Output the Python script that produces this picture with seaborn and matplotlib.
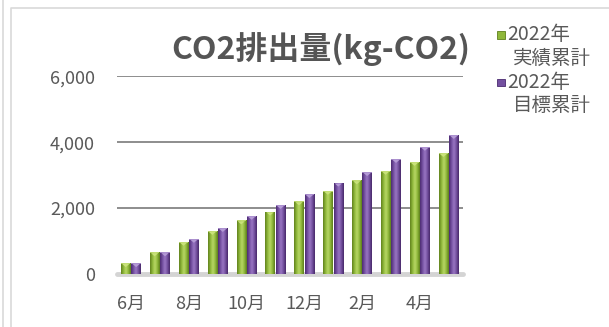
import numpy as np
import pandas as pd
import matplotlib
matplotlib.use("Agg")
import matplotlib.pyplot as plt
from matplotlib.patches import Rectangle, Polygon
from matplotlib.colors import LinearSegmentedColormap
import seaborn as sns

months = ["6月", "7月", "8月", "9月", "10月", "11月", "12月", "1月", "2月", "3月", "4月", "5月"]
actual = [320, 650, 970, 1300, 1620, 1890, 2200, 2520, 2840, 3130, 3400, 3670]
target = [320, 650, 1060, 1390, 1760, 2090, 2420, 2770, 3090, 3490, 3860, 4220]
series = ["2022年\n実績累計", "2022年\n目標累計"]
yticks = [0, 2000, 4000, 6000]

sns.set_theme(style="white")
plt.rcParams["font.family"] = ["Noto Sans CJK JP", "DejaVu Sans"]

df = pd.DataFrame({
    "month": months * 2,
    "series": [series[0]] * len(months) + [series[1]] * len(months),
    "value": actual + target,
})

# cylinder-like shading: dark edge -> highlight -> dark edge
shades = {
    series[0]: ["#5f7f1c", "#8fb83a", "#b9d867", "#8fb83a", "#5a7a1a"],
    series[1]: ["#4a2a70", "#7450a0", "#9a78c4", "#7450a0", "#452766"],
}
caps = {series[0]: "#c9e27a", series[1]: "#b49ad6"}
base = {series[0]: "#8fb83a", series[1]: "#7450a0"}

W, H = 609, 327
fig = plt.figure(figsize=(W / 100, H / 100), dpi=100)
ax = fig.add_axes([116.5 / W, (H - 273.7) / H, 346.5 / W, 197.2 / H])

sns.barplot(data=df, x="month", y="value", hue="series", hue_order=series,
            order=months, palette=[base[s] for s in series], width=0.72, gap=0.1,
            legend=False, ax=ax, saturation=1)

ax.set_xlim(-0.5, 11.5)
ax.set_ylim(0, 6000)

grad = np.linspace(0, 1, 64).reshape(1, -1)
n = len(months)
for i, p in enumerate(ax.patches[: 2 * n]):
    s = series[0] if i < n else series[1]
    cmap = LinearSegmentedColormap.from_list("c" + str(i), shades[s])
    x0, y0 = p.get_x(), p.get_y()
    w, h = p.get_width(), p.get_height()
    im = ax.imshow(grad, cmap=cmap, aspect="auto", extent=[x0, x0 + w, y0, y0 + h],
                   zorder=3, interpolation="bicubic")
    im.set_clip_path(p)
    p.set_facecolor("none")
    p.set_edgecolor("none")
    # bevelled top cap
    tri = Polygon([[x0 + w * 0.12, y0 + h - 25], [x0 + w * 0.88, y0 + h - 25],
                   [x0 + w / 2, y0 + h - 120]], closed=True,
                  facecolor=caps[s], edgecolor="none", zorder=4)
    ax.add_patch(tri)
    ax.add_patch(Rectangle((x0, y0 + h - 25), w, 25, facecolor=caps[s],
                           edgecolor="none", zorder=4, alpha=0.8))

ax.set_xlim(-0.5, 11.5)
ax.set_ylim(0, 6000)

for yv in yticks[1:]:
    ax.axhline(yv, color="#858585", lw=1.3, zorder=1)
ax.axhline(-20, color="#d4d4d4", lw=3.5, zorder=2, clip_on=False)

for sp in ax.spines.values():
    sp.set_visible(False)
ax.set_yticks(yticks)
ax.set_yticklabels([f"{v:,}" for v in yticks])
ax.set_xticks(range(0, n, 2))
ax.set_xticklabels(months[::2])
ax.tick_params(axis="y", length=0, pad=15.5, labelsize=13, labelcolor="#595959")
ax.tick_params(axis="x", length=0, pad=15, labelsize=13, labelcolor="#595959")
ax.set_xlabel("")
ax.set_ylabel("")

fig.text(321 / W, 1 - 49 / H, "CO2排出量(kg-CO2)", ha="center", va="center",
         fontsize=23, fontweight="bold", color="#555555")

# legend
leg_y = [35, 82]
for s, yy in zip(series, leg_y):
    fig.patches.append(Rectangle((497 / W, 1 - (yy + 3.5) / H), 8 / W, 7 / H,
                                 transform=fig.transFigure, facecolor=base[s],
                                 edgecolor=shades[s][0], lw=0.6))
    l1, l2 = s.split("\n")
    fig.text(507 / W, 1 - yy / H, l1, ha="left", va="center",
             fontsize=14, color="#595959")
    fig.text(513 / W, 1 - (yy + 23) / H, l2, ha="left", va="center",
             fontsize=14, color="#595959")

# outer frames
fig.add_artist(plt.Line2D([2.5 / W, 2.5 / W], [0, 1], transform=fig.transFigure,
                          color="#d9d9d9", lw=1.2))
fig.add_artist(plt.Line2D([10.5 / W, 10.5 / W, 1], [0, 1 - 7.5 / H, 1 - 7.5 / H],
                          transform=fig.transFigure, color="#d9d9d9", lw=1.2))

fig.savefig("out.png", dpi=100)
